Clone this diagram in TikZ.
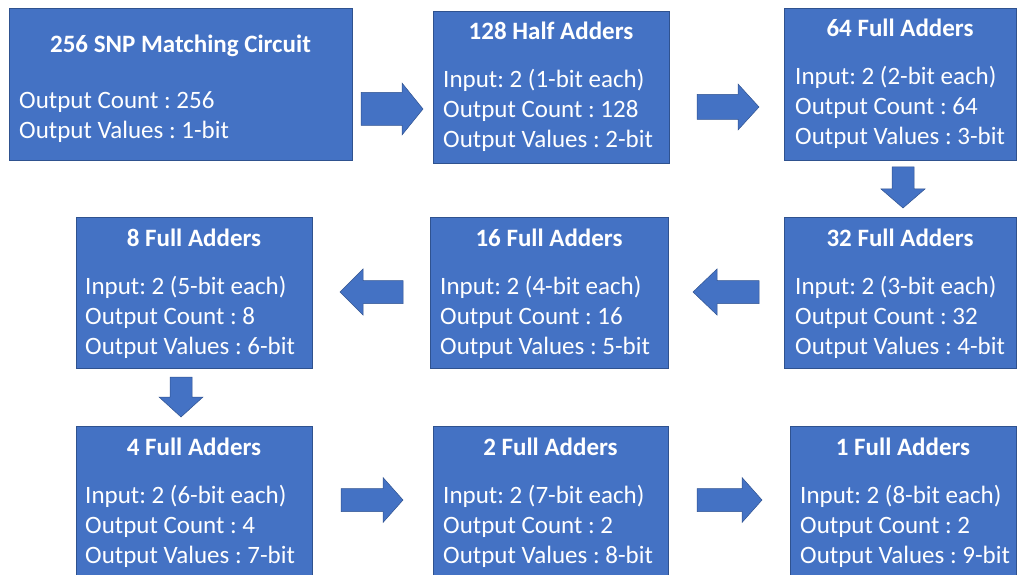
\documentclass[tikz,border=0pt]{standalone}
\usepackage{fontspec}
\setmainfont{Carlito}
\usetikzlibrary{calc,fit}
\frenchspacing

\definecolor{boxblue}{RGB}{68,114,196}
\definecolor{boxedge}{RGB}{47,82,143}

\tikzset{
  stage/.style={draw=boxedge, line width=0.8pt, fill=boxblue, inner sep=0pt, outer sep=0pt},
  stagetitle/.style={text=white, font=\bfseries\fontsize{25}{30}\selectfont, anchor=base, inner sep=0pt},
  stageline/.style={text=white, font=\fontsize{25}{30}\selectfont, anchor=base west, inner sep=0pt},
  fatarrow/.style={fill=boxblue, draw=boxedge, line width=0.5pt, line join=miter}
}

% block arrow: tail x, tail y, rotation, length, head length, head width, shaft width
\newcommand\blockarrow[7]{%
  \begin{scope}[shift={(#1,#2)}, rotate=#3]
    \path[fatarrow] (0,{-#7/2}) -- ({#4-#5},{-#7/2}) -- ({#4-#5},{-#6/2})
      -- (#4,0) -- ({#4-#5},{#6/2}) -- ({#4-#5},{#7/2}) -- (0,{#7/2}) -- cycle;
  \end{scope}}

% three-line stage: name, NW corner, SE corner, title, line 1, line 2, line 3, left inset
\newcommand\stagethree[8]{%
  \node[stage, fit={#2 #3}] (#1) {};
  \node[stagetitle] (#1t) at ($(#1.north)+(0,29)$) {#4};
  \node[stageline] (#1a) at ($(#1.north west)+(#8,77)$) {#5};
  \node[stageline] (#1b) at ($(#1.north west)+(#8,107)$) {#6};
  \node[stageline] (#1c) at ($(#1.north west)+(#8,137)$) {#7};}

\begin{document}
\begin{tikzpicture}[x=1pt, y=-1pt]
  \useasboundingbox (0,0) rectangle (1018,575);

  % first stage: the matching circuit
  \node[stage, fit={(9,8) (352,160)}] (s1) {};
  \node[stagetitle] (s1t) at ($(s1.north)+(0,45)$) {256 SNP Matching Circuit};
  \node[stageline] (s1a) at ($(s1.north west)+(10,101)$) {Output Count : 256};
  \node[stageline] (s1b) at ($(s1.north west)+(10,131)$) {Output Values : 1-bit};

  % adder stages
  \stagethree{s2}{(433,11)}{(669,163)}{128 Half Adders}
    {Input: 2 (1-bit each)}{Output Count : 128}{Output Values : 2-bit}{10}
  \stagethree{s3}{(784,8)}{(1016,160)}{64 Full Adders}
    {Input: 2 (2-bit each)}{Output Count : 64}{Output Values : 3-bit}{11}
  \stagethree{s4}{(784,217)}{(1016,368)}{32 Full Adders}
    {Input: 2 (3-bit each)}{Output Count : 32}{Output Values : 4-bit}{11}
  \stagethree{s5}{(430,217)}{(668,368)}{16 Full Adders}
    {Input: 2 (4-bit each)}{Output Count : 16}{Output Values : 5-bit}{10}
  \stagethree{s6}{(76,217)}{(312,368)}{8 Full Adders}
    {Input: 2 (5-bit each)}{Output Count : 8}{Output Values : 6-bit}{9}
  \stagethree{s7}{(76,426)}{(312,580)}{4 Full Adders}
    {Input: 2 (6-bit each)}{Output Count : 4}{Output Values : 7-bit}{9}
  \stagethree{s8}{(433,426)}{(668,580)}{2 Full Adders}
    {Input: 2 (7-bit each)}{Output Count : 2}{Output Values : 8-bit}{10}
  \stagethree{s9}{(790,426)}{(1016,580)}{1 Full Adders}
    {Input: 2 (8-bit each)}{Output Count : 2}{Output Values : 9-bit}{10}

  % block arrows between stages
  \blockarrow{361}{109}{0}{62}{21}{52}{33}
  \blockarrow{697}{107}{0}{62}{21}{46}{25}
  \blockarrow{903}{167}{-90}{41}{19}{44}{22}
  \blockarrow{759}{292}{180}{66}{24}{46}{23}
  \blockarrow{403}{292}{180}{63}{23}{46}{23}
  \blockarrow{181}{377}{-90}{40}{20}{44}{22}
  \blockarrow{341}{500}{0}{62}{20}{45}{23}
  \blockarrow{697}{500}{0}{65}{20}{45}{23}
\end{tikzpicture}
\end{document}
